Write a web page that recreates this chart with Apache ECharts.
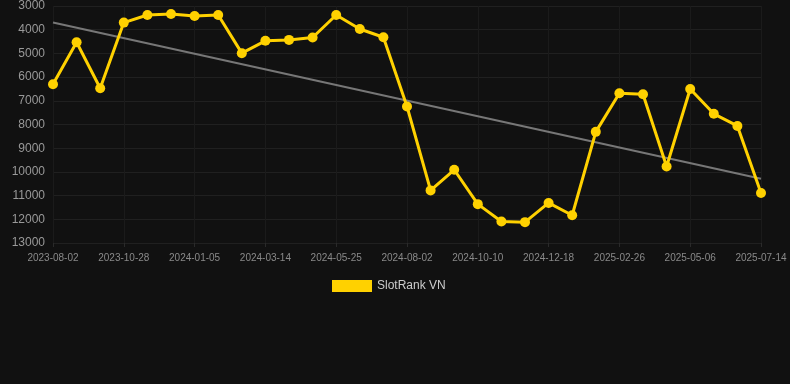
<!DOCTYPE html>
<html>
<head>
<meta charset="utf-8">
<script src="https://cdn.jsdelivr.net/npm/echarts@6/dist/echarts.min.js"></script>
<style>
html, body { margin: 0; padding: 0; background: #111111; }
#chart { width: 790px; height: 384px; }
</style>
</head>
<body>
<div id="chart"></div>
<script>
var dates = ['2023-08-02', '2023-08-31', '2023-09-29', '2023-10-28', '2023-11-20', '2023-12-13',
	'2024-01-05', '2024-01-28', '2024-02-20', '2024-03-14', '2024-04-07', '2024-05-01',
	'2024-05-25', '2024-06-17', '2024-07-10', '2024-08-02', '2024-08-25', '2024-09-17',
	'2024-10-10', '2024-11-02', '2024-11-25', '2024-12-18', '2025-01-10', '2025-02-03',
	'2025-02-26', '2025-03-21', '2025-04-13', '2025-05-06', '2025-05-29', '2025-06-21',
	'2025-07-14'];
var ranks = [6300, 4530, 6470, 3700, 3380, 3340, 3420, 3380, 4990, 4470, 4430, 4330,
	3380, 3970, 4320, 7240, 10780, 9910, 11360, 12090, 12120, 11310, 11830, 8310,
	6680, 6720, 9770, 6500, 7550, 8060, 10890];
// trend line ends
var trendStart = 3700;
var trendEnd = 10290;

var dom = document.getElementById('chart');
var myChart = echarts.init(dom);
var option = {
	backgroundColor: '#111111',
	animation: false,
	legend: {
		bottom: 87,
		left: 327,
		itemWidth: 40,
		itemHeight: 12,
		itemGap: 6,
		textStyle: {
			color: '#cccccc',
			fontSize: 12,
			fontFamily: 'Liberation Sans, Arial, sans-serif'
		},
		data: [{
			name: 'SlotRank VN',
			icon: 'rect',
			itemStyle: { color: '#ffd100' }
		}]
	},
	grid: {
		left: 53,
		right: 29,
		top: 6,
		bottom: 141
	},
	xAxis: {
		type: 'category',
		data: dates,
		boundaryGap: false,
		axisLine: { show: false },
		axisTick: {
			show: true,
			interval: 2,
			length: 4,
			lineStyle: { color: '#2a2a2a' }
		},
		axisLabel: {
			interval: 2,
			color: '#8a8a8a',
			fontSize: 10,
			margin: 10,
			fontFamily: 'Liberation Sans, Arial, sans-serif'
		},
		splitLine: {
			show: true,
			interval: 2,
			lineStyle: { color: '#1b1b1b' }
		}
	},
	yAxis: {
		type: 'value',
		inverse: true,
		min: 3000,
		max: 13000,
		interval: 1000,
		axisLine: { show: false },
		axisTick: { show: false },
		axisLabel: {
			color: '#999999',
			fontSize: 12,
			margin: 8,
			fontFamily: 'Liberation Sans, Arial, sans-serif',
			formatter: function(v) {
				return String(v);
			}
		},
		splitLine: {
			lineStyle: { color: '#202020' }
		}
	},
	series: [
		{
			name: 'SlotRank VN',
			type: 'line',
			data: ranks,
			symbol: 'circle',
			symbolSize: 10,
			lineStyle: { color: '#ffd100', width: 3 },
			itemStyle: { color: '#ffd100' },
			z: 3
		},
		{
			name: 'trend',
			type: 'line',
			data: [[dates[0], trendStart], [dates[dates.length - 1], trendEnd]],
			symbol: 'none',
			lineStyle: { color: '#777777', width: 2 },
			z: 2
		}
	]
};
myChart.setOption(option);
</script>
</body>
</html>
